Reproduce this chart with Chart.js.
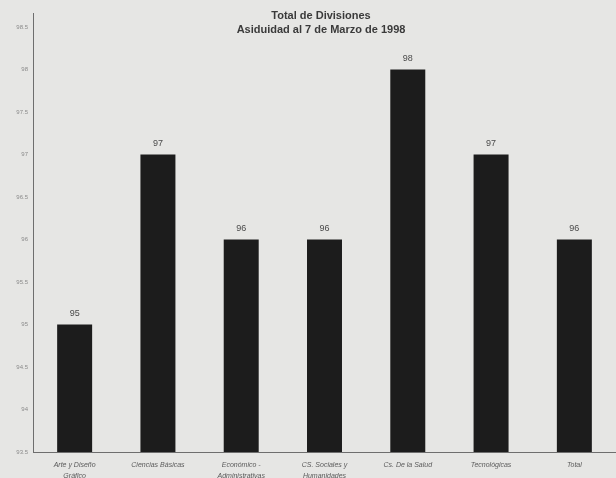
<!DOCTYPE html>
<html lang="es">
<head>
<meta charset="UTF-8">
<title>Total de Divisiones</title>
<script src="https://cdn.jsdelivr.net/npm/chart.js"></script>
<style>
  html, body { margin: 0; padding: 0; background: #e6e6e4; }
  #wrap { width: 616px; height: 478px; position: relative; }
</style>
</head>
<body>
<div id="wrap"><canvas id="chart" width="616" height="478"></canvas></div>
<script>
// data
const divisiones = [
  ['Arte y Diseño', 'Gráfico'],
  'Ciencias Básicas',
  ['Económico -', 'Administrativas'],
  ['CS. Sociales y', 'Humanidades'],
  'Cs. De la Salud',
  'Tecnológicas',
  'Total'
];
const asiduidad = [95, 97, 96, 96, 98, 97, 96];
const yTicks = [93.5, 94, 94.5, 95, 95.5, 96, 96.5, 97, 97.5, 98, 98.5];
const titulo = ['Total de Divisiones', 'Asiduidad al 7 de Marzo de 1998'];

// title and bar values, drawn on top of the plot like the original
const extras = {
  id: 'extras',
  afterDatasetsDraw(chart) {
    const ctx = chart.ctx;
    const area = chart.chartArea;
    ctx.save();
    // the y axis line runs a bit past the top tick in the scan
    ctx.strokeStyle = '#6e6e6e';
    ctx.lineWidth = 1;
    ctx.beginPath();
    ctx.moveTo(area.left + 0.5, 13);
    ctx.lineTo(area.left + 0.5, area.top);
    ctx.stroke();

    ctx.fillStyle = '#3a3a3a';
    ctx.textAlign = 'center';
    ctx.textBaseline = 'middle';
    ctx.font = 'bold 11px "Liberation Sans", Arial, sans-serif';
    ctx.fillText(titulo[0], 321, 16);
    ctx.fillText(titulo[1], 321, 30);
    ctx.font = '9px "Liberation Sans", Arial, sans-serif';
    ctx.fillStyle = '#4a4a4a';
    chart.getDatasetMeta(0).data.forEach((bar, i) => {
      ctx.fillText(String(asiduidad[i]), bar.x, bar.y - 11);
    });
    ctx.restore();
  }
};

new Chart(document.getElementById('chart'), {
  type: 'bar',
  data: {
    labels: divisiones,
    datasets: [{
      data: asiduidad,
      backgroundColor: '#1c1c1c',
      borderWidth: 0,
      barPercentage: 0.42,
      categoryPercentage: 1
    }]
  },
  options: {
    responsive: false,
    animation: false,
    layout: { padding: { top: 27, right: 0, left: 0, bottom: 0 } },
    plugins: { legend: { display: false }, tooltip: { enabled: false }, title: { display: false } },
    scales: {
      y: {
        min: 93.5,
        max: 98.5,
        afterBuildTicks(axis) { axis.ticks = yTicks.map(v => ({ value: v })); },
        afterFit(axis) { axis.width = 33; },
        grid: { display: false, drawTicks: false },
        border: { color: '#6e6e6e', width: 1 },
        ticks: {
          color: '#8a8a8a',
          padding: 5,
          font: { size: 6, family: '"Liberation Sans", Arial, sans-serif' },
          callback: v => String(v)
        }
      },
      x: {
        afterFit(axis) { axis.height = 26; },
        grid: { display: false, drawTicks: false },
        border: { color: '#6e6e6e', width: 1 },
        ticks: {
          color: '#5a5a5a',
          padding: 8,
          maxRotation: 0,
          autoSkip: false,
          font: { size: 7, style: 'italic', family: '"Liberation Sans", Arial, sans-serif', lineHeight: 1.5 }
        }
      }
    }
  },
  plugins: [extras]
});
</script>
</body>
</html>
